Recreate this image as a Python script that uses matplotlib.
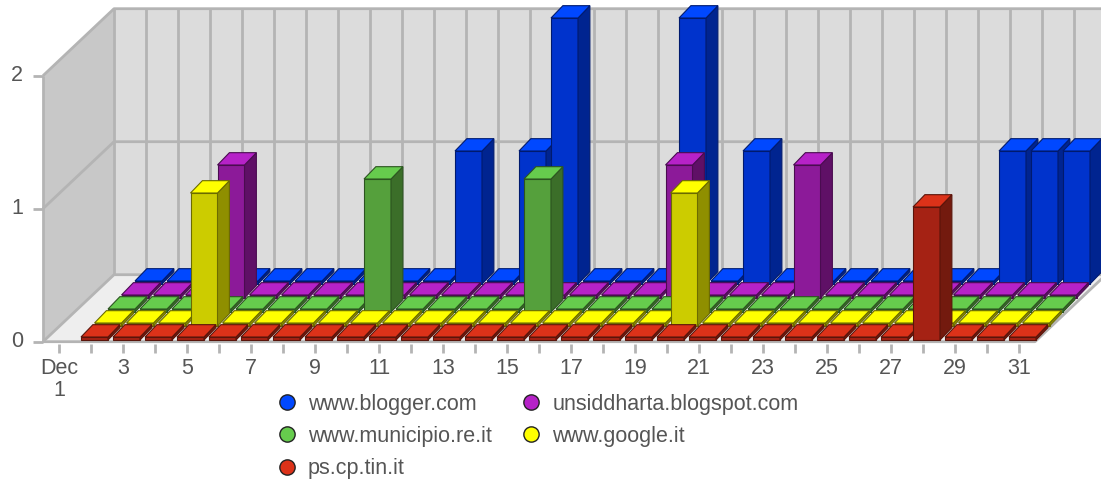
import matplotlib
matplotlib.use("Agg")
import matplotlib.pyplot as plt
from matplotlib.patches import Polygon
from matplotlib.lines import Line2D

plt.rcParams['font.family'] = ['Liberation Sans', 'DejaVu Sans']

# data: visits per day, Dec 2 .. Dec 31
days = list(range(2, 32))
series_names = ["ps.cp.tin.it", "www.google.it", "www.municipio.re.it",
                "unsiddharta.blogspot.com", "www.blogger.com"]
ps_cp = [0, 0, 0, 0, 0, 0, 0, 0, 0, 0, 0, 0, 0, 0, 0,
         0, 0, 0, 0, 0, 0, 0, 0, 0, 0, 0, 1, 0, 0, 0]
google = [0, 0, 0, 1, 0, 0, 0, 0, 0, 0, 0, 0, 0, 0, 0,
          0, 0, 0, 1, 0, 0, 0, 0, 0, 0, 0, 0, 0, 0, 0]
municipio = [0, 0, 0, 0, 0, 0, 0, 0, 1, 0, 0, 0, 0, 1, 0,
             0, 0, 0, 0, 0, 0, 0, 0, 0, 0, 0, 0, 0, 0, 0]
unsiddharta = [0, 0, 0, 1, 0, 0, 0, 0, 0, 0, 0, 0, 0, 0, 0,
               0, 0, 1, 0, 0, 0, 1, 0, 0, 0, 0, 0, 0, 0, 0]
blogger = [0, 0, 0, 0, 0, 0, 0, 0, 0, 0, 1, 0, 1, 2, 0,
           0, 0, 2, 0, 1, 0, 0, 0, 0, 0, 0, 0, 1, 1, 1]
series = [ps_cp, google, municipio, unsiddharta, blogger]
tick_days = list(range(1, 32))

# colours: (top, front, side, edge) - front row first
colors = [
    ("#dc3219", "#a52214", "#731a0e", "#5a140a"),
    ("#ffff00", "#cccc00", "#8f8f00", "#6b6b00"),
    ("#66cc4d", "#55a03c", "#3b6e29", "#2c5420"),
    ("#b622c8", "#8c1a99", "#5f1066", "#4a0c50"),
    ("#0048ff", "#0033cc", "#002490", "#001a6e"),
]
legend_colors = ["#dc3219", "#ffff00", "#66cc4d", "#b622c8", "#0048ff"]

# geometry in data units (x: one day slot, y: one visit)
PX_X, PX_Y = 32.0, 133.0
W, H = 1101, 482
X_LEFT, Y_ZERO = 43.0, 341.7          # pixel position of the front-left floor corner
DEPTH_X, DEPTH_Y = 71 / PX_X, 67 / PX_Y
ROW_DX, ROW_DY = 13.5 / PX_X, 14 / PX_Y
ROW0_X, ROW0_Y = 6 / PX_X, 1.7 / PX_Y
BAR_W = 27 / PX_X
BAR_D = 0.88
MIN_H = 3 / PX_Y
YMAX = 2
NSLOT = 31
FS = 15.5

fig = plt.figure(figsize=(W / 100, H / 100), dpi=100)
ax = fig.add_axes([0, 0, 1, 1])
ax.set_xlim(-X_LEFT / PX_X, (W - X_LEFT) / PX_X)
ax.set_ylim(-(H - Y_ZERO) / PX_Y, Y_ZERO / PX_Y)
ax.axis('off')

grid_c = "#b4b4b4"
txt_c = "#555555"


def poly(pts, fc, ec=None, lw=0, zo=1):
    p = Polygon(pts, closed=True, facecolor=fc, edgecolor=ec if ec else fc,
                linewidth=lw, zorder=zo, joinstyle='miter')
    ax.add_patch(p)


# walls and floor
poly([(0, 0), (DEPTH_X, DEPTH_Y), (DEPTH_X, DEPTH_Y + YMAX), (0, YMAX)], "#c8c8c8")
poly([(DEPTH_X, DEPTH_Y), (NSLOT + DEPTH_X, DEPTH_Y), (NSLOT + DEPTH_X, DEPTH_Y + YMAX),
      (DEPTH_X, DEPTH_Y + YMAX)], "#dcdcdc")
poly([(0, 0), (NSLOT, 0), (NSLOT + DEPTH_X, DEPTH_Y), (DEPTH_X, DEPTH_Y)], "#eeeeee")

lk = dict(color=grid_c, lw=2, zorder=2, solid_capstyle='butt')
for j in range(1, NSLOT + 1):
    ax.plot([j + DEPTH_X] * 2, [DEPTH_Y, DEPTH_Y + YMAX], **lk)
for v in range(0, YMAX + 1):
    ax.plot([0, DEPTH_X, NSLOT + DEPTH_X], [v, v + DEPTH_Y, v + DEPTH_Y], **lk)
    ax.plot([-10 / PX_X, 0], [v, v], **lk)
    ax.text(-20 / PX_X, v, str(v), ha='right', va='center', fontsize=FS, color=txt_c)
ax.plot([0, 0], [0, YMAX], **lk)
ax.plot([DEPTH_X, DEPTH_X], [DEPTH_Y, DEPTH_Y + YMAX], **lk)
ax.plot([0, NSLOT, NSLOT + DEPTH_X], [0, 0, DEPTH_Y], **lk)

# x ticks
for j, d in enumerate(tick_days):
    ax.plot([j + 0.5] * 2, [-2 / PX_Y, -11 / PX_Y], **lk)
    if d % 2 == 1:
        lab = "Dec\n1" if d == 1 else str(d)
        ax.text(j + 0.5, -16 / PX_Y, lab, ha='center', va='top', fontsize=FS,
                color=txt_c, linespacing=1.05)

# bars, back row first, left to right
zo = 10
for r in range(len(series) - 1, -1, -1):
    top_c, front_c, side_c, edge_c = colors[r]
    dx, dy = ROW_DX * BAR_D, ROW_DY * BAR_D
    for i, d in enumerate(days):
        v = series[r][i]
        h = max(v, MIN_H)
        x0 = (d - 1) + ROW0_X + r * ROW_DX
        y0 = ROW0_Y + r * ROW_DY
        x1 = x0 + BAR_W
        poly([(x0, y0), (x1, y0), (x1, y0 + h), (x0, y0 + h)], front_c, edge_c, 0.8, zo)
        poly([(x1, y0), (x1 + dx, y0 + dy), (x1 + dx, y0 + h + dy), (x1, y0 + h)],
             side_c, edge_c, 0.8, zo)
        poly([(x0, y0 + h), (x1, y0 + h), (x1 + dx, y0 + h + dy), (x0 + dx, y0 + h + dy)],
             top_c, edge_c, 0.8, zo)
        zo += 1

# legend
order = [4, 2, 0, 3, 1]
handles = [Line2D([], [], marker='o', lw=0, markersize=11, markerfacecolor=legend_colors[k],
                  markeredgecolor="#222222", markeredgewidth=1) for k in order]
ax.legend(handles, [series_names[k] for k in order], ncol=2, frameon=False,
          loc='upper left', bbox_to_anchor=(265 / W, 1 - 383 / H), fontsize=FS,
          labelcolor=txt_c, handlelength=1.0, handletextpad=0.5,
          columnspacing=1.3, labelspacing=0.52, borderpad=0)

fig.savefig("out.png", dpi=100)
